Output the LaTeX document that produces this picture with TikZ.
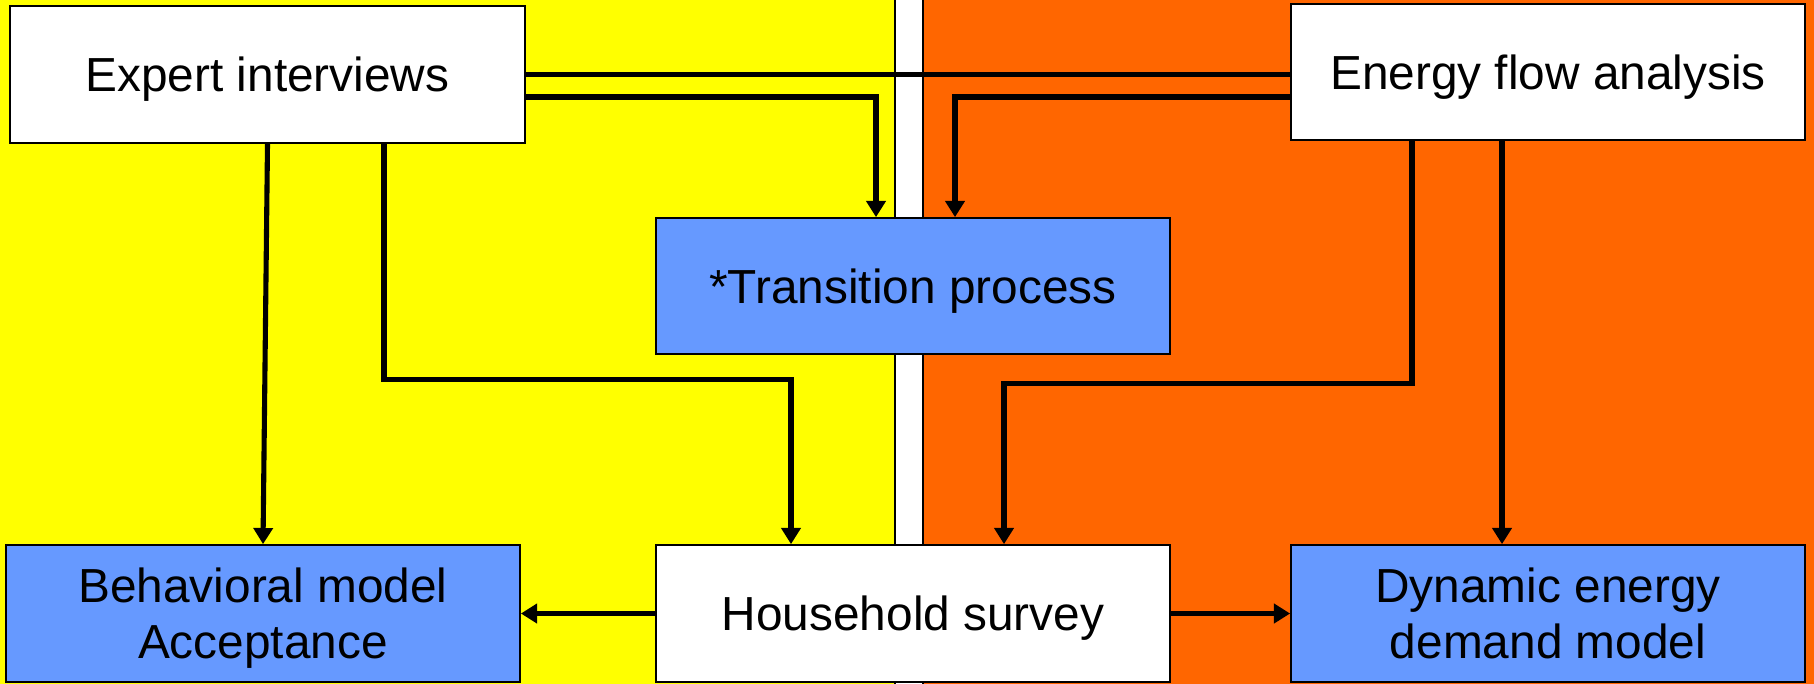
\documentclass[tikz,border=0pt]{standalone}
\usepackage{fontspec}
\setmainfont{Liberation Sans}
\usetikzlibrary{arrows.meta,positioning}
\definecolor{zoneyellow}{HTML}{FFFF00}
\definecolor{zoneorange}{HTML}{FF6600}
\definecolor{modelblue}{HTML}{6699FF}
\tikzstyle{block}=[draw, line width=0.5pt, fill=white, rectangle, minimum width=5.14cm, minimum height=1.36cm, align=center, text depth=0pt, font=\fontsize{13.6}{16}\selectfont]
\tikzstyle{model}=[block, fill=modelblue]
\tikzstyle{link}=[line width=1.45pt]

\begin{document}
\begin{tikzpicture}[>={Triangle[length=4.6pt,width=5.4pt]}]
\useasboundingbox (0,0) rectangle (18.14,6.83);
\begin{scope}
\clip (0,0) rectangle (18.14,6.83);
\fill[white] (0,0) rectangle (18.14,6.83);
\draw[fill=zoneyellow, line width=0.3pt] (-0.1,-0.1) rectangle (8.95,7);
\draw[fill=zoneorange, line width=0.3pt] (9.23,-0.1) rectangle (18.3,7);
\end{scope}
\node [block, minimum width=5.15cm, minimum height=1.37cm] (expert) at (2.675,6.085) {Expert interviews};
\node [block] (energy) at (15.48,6.11) {Energy flow analysis};
\node [model] (trans) at (9.13,3.97) {*Transition process};
\node [model, minimum height=1.37cm] (behav) at (2.63,0.695) {Behavioral model\\Acceptance};
\node [block, minimum height=1.37cm] (house) at (9.13,0.695) {Household survey};
\node [model, minimum height=1.37cm] (dyn) at (15.48,0.695) {Dynamic energy\\demand model};
\draw[link] (expert.east) -- (expert.east -| energy.west);
\draw[link,->] ([yshift=-0.225cm]expert.east) -| ([xshift=-0.37cm]trans.north);
\draw[link,->] ([yshift=-0.25cm]energy.west) -| ([xshift=0.42cm]trans.north);
\draw[link,->] (expert.south) -- (behav.north);
\draw[link,->] ([xshift=1.165cm]expert.south) -- ++(0,-2.36) -| ([xshift=-1.22cm]house.north);
\draw[link,->] ([xshift=-1.36cm]energy.south) -- ++(0,-2.43) -| ([xshift=0.91cm]house.north);
\draw[link,->] ([xshift=-0.46cm]energy.south) -- ([xshift=-0.46cm]dyn.north);
\draw[link,->] (house.west) -- (behav.east);
\draw[link,->] (house.east) -- (dyn.west);
\end{tikzpicture}
\end{document}
